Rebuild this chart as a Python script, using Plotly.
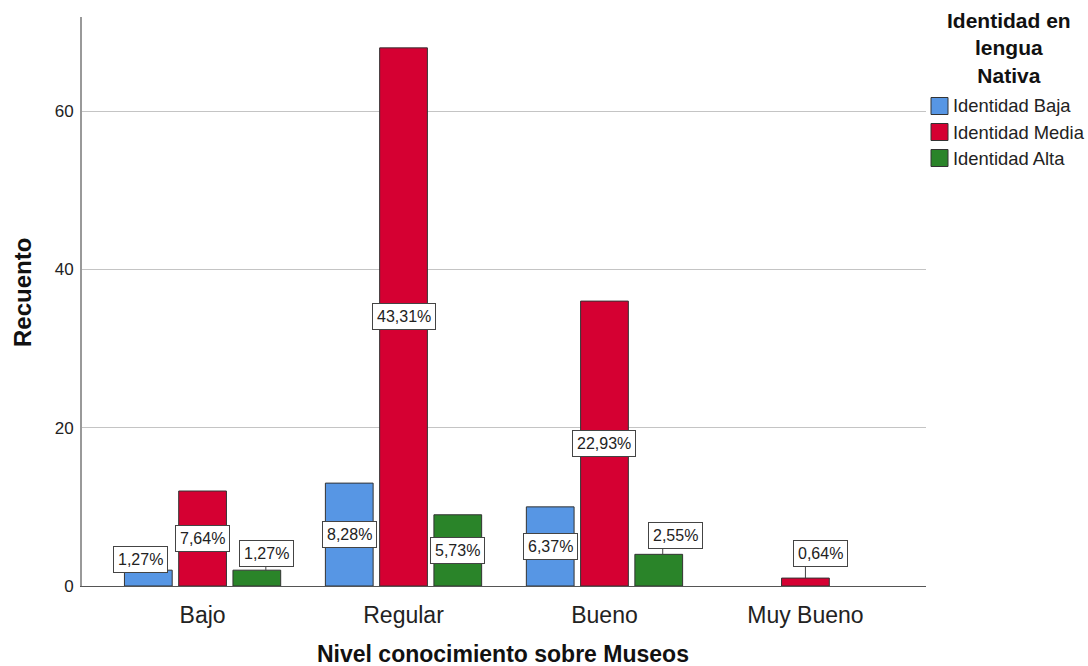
import plotly.graph_objects as go

# Data: count of students by knowledge level and identity level (N = 157)
categories = ["Bajo", "Regular", "Bueno", "Muy Bueno"]
series_names = ["Identidad Baja", "Identidad Media", "Identidad Alta"]
baja = [2, 13, 10, None]
media = [12, 68, 36, 1]
alta = [2, 9, 4, None]
pct_labels = {
    "Identidad Baja": ["1,27%", "8,28%", "6,37%", None],
    "Identidad Media": ["7,64%", "43,31%", "22,93%", "0,64%"],
    "Identidad Alta": ["1,27%", "5,73%", "2,55%", None],
}
y_ticks = [0, 20, 40, 60]
legend_title_lines = ["Identidad en", "lengua", "Nativa"]

colors = ["#5796E4", "#D50032", "#2A8429"]
values = [baja, media, alta]

FONT = "Liberation Sans, Arial"
W, H = 1088, 666
ML, MR, MT, MB = 82, 162, 17, 80
PW, PH = W - ML - MR, H - MT - MB

def px_x(x):
    return (x - ML) / PW

def px_y(y):
    return (H - MB - y) / PH

BARGAP, GROUPGAP = 0.19, 0.12
slot = (1 - BARGAP) / 3

fig = go.Figure()
for name, vals, col in zip(series_names, values, colors):
    fig.add_trace(go.Bar(
        x=list(range(len(categories))), y=vals, name=name,
        marker=dict(color=col, line=dict(color="#333333", width=1)),
        showlegend=False, hoverinfo="x+y+name",
    ))

# Label placement for short bars: box offset (dx, dy from bar top) and leader line x
above = {
    ("Identidad Baja", 0): (-8, -11, None),
    ("Identidad Alta", 0): (10, -17, 9),
    ("Identidad Alta", 2): (17, -19, 4),
    ("Identidad Media", 3): (15, -25, 0),
}
BOX_HALF = 13

annotations = []
shapes = []
for si, (name, vals) in enumerate(zip(series_names, values)):
    for ci, v in enumerate(vals):
        txt = pct_labels[name][ci]
        if v is None or txt is None:
            continue
        xc = ci + (si - 1) * slot
        common = dict(
            x=xc, xref="x", yref="y", text=txt, showarrow=False,
            font=dict(family=FONT, size=16, color="#222222"),
            bgcolor="white", bordercolor="#444444", borderwidth=1, borderpad=4,
        )
        if (name, ci) in above:
            dx, dy, lx = above[(name, ci)]
            annotations.append(dict(common, y=v, xshift=dx, yshift=-dy))
            if lx is not None:
                shapes.append(dict(
                    type="line", xref="x", yref="y",
                    xsizemode="pixel", xanchor=xc, x0=lx, x1=lx,
                    ysizemode="pixel", yanchor=v, y0=0, y1=-dy - BOX_HALF,
                    line=dict(color="#444444", width=1), layer="above",
                ))
        else:
            annotations.append(dict(common, y=v / 2))

# Axis titles
annotations.append(dict(
    x=px_x(503), y=px_y(654), xref="paper", yref="paper",
    xanchor="center", yanchor="middle", showarrow=False,
    text="<b>Nivel conocimiento sobre Museos</b>",
    font=dict(family=FONT, size=23, color="#111111"),
))
annotations.append(dict(
    x=px_x(22), y=px_y(293), xref="paper", yref="paper",
    xanchor="center", yanchor="middle", showarrow=False, textangle=-90,
    text="<b>Recuento</b>",
    font=dict(family=FONT, size=24, color="#111111"),
))

# Legend drawn beside the plot
annotations.append(dict(
    x=px_x(1009), y=px_y(48), xref="paper", yref="paper",
    xanchor="center", yanchor="middle", showarrow=False, align="center",
    text="<b>" + "<br>".join(legend_title_lines) + "</b>",
    font=dict(family=FONT, size=21, color="#111111"),
))
for i, (name, col) in enumerate(zip(series_names, colors)):
    yc = 106 + i * 26
    shapes.append(dict(
        type="rect", xref="paper", yref="paper",
        x0=px_x(931), x1=px_x(948), y0=px_y(yc + 8.5), y1=px_y(yc - 8.5),
        fillcolor=col, line=dict(color="#333333", width=1),
    ))
    annotations.append(dict(
        x=px_x(951), y=px_y(yc), xref="paper", yref="paper",
        xanchor="left", yanchor="middle", showarrow=False,
        text=name, font=dict(family=FONT, size=18.4, color="#222222"),
    ))

fig.update_layout(
    width=W, height=H,
    margin=dict(l=ML, r=MR, t=MT, b=MB, autoexpand=False),
    paper_bgcolor="white", plot_bgcolor="white",
    barmode="group", bargap=BARGAP, bargroupgap=GROUPGAP,
    annotations=annotations, shapes=shapes,
    font=dict(family=FONT, color="#222222"),
    xaxis=dict(
        range=[-0.6, 3.6], tickmode="array",
        tickvals=list(range(len(categories))), ticktext=categories,
        tickfont=dict(size=23, color="#222222"),
        showline=True, linecolor="#555555", linewidth=1,
        showgrid=False, zeroline=False, ticks="", ticklabelstandoff=8,
        automargin=False,
    ),
    yaxis=dict(
        range=[0, 71.9], tickmode="array", tickvals=y_ticks,
        tickfont=dict(size=17, color="#222222"),
        showline=True, linecolor="#999999", linewidth=2,
        showgrid=True, gridcolor="#C4C4C4", gridwidth=1,
        zeroline=False, ticks="", ticklabelstandoff=3,
        automargin=False,
    ),
)

fig.write_html("out.html")
